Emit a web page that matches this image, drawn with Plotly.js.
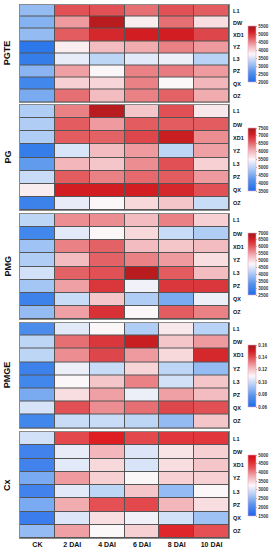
<!DOCTYPE html>
<html>
<head>
<meta charset="utf-8">
<script src="https://cdn.plot.ly/plotly-3.0.1.min.js"></script>
<style>html,body{margin:0;padding:0;background:#fff;}#chart{width:273px;height:550px;}</style>
</head>
<body>
<div id="chart"></div>
<script>
// ---- data ----
const days = ['CK', '2 DAI', '4 DAI', '6 DAI', '8 DAI', '10 DAI'];
const rows = ['L1', 'DW', 'XD1', 'YZ', 'L3', 'PZ', 'QX', 'OZ'];
const panelNames = ['PGTE', 'PG', 'PMG', 'PMGE', 'Cx'];

const PGTE = [
  [3050, 4800, 4800, 4625, 4800, 4730],
  [2945, 4380, 5325, 3820, 4625, 3925],
  [3050, 4730, 5080, 5150, 5150, 4870],
  [2175, 3820, 4170, 4275, 4520, 4380],
  [2280, 3610, 3330, 3575, 3645, 3295],
  [2980, 4345, 3750, 4520, 4555, 4380],
  [2420, 4030, 3995, 4520, 3750, 4205],
  [2875, 4625, 4170, 4520, 4695, 4275]
];
const PG = [
  [4900, 6380, 7300, 5900, 6700, 5620],
  [4900, 6620, 6220, 6620, 6620, 6620],
  [4900, 6620, 6580, 6780, 7180, 6300],
  [3820, 5220, 5980, 6220, 5020, 6180],
  [4300, 6020, 5900, 6300, 6700, 5820],
  [5100, 6620, 6380, 6540, 6620, 6220],
  [5580, 7100, 7100, 7100, 7020, 6700],
  [3900, 5340, 5500, 5740, 5900, 5100]
];
const PMG = [
  [4210, 5650, 5650, 5290, 5740, 5110],
  [3040, 4525, 4750, 5020, 4300, 4075],
  [3940, 5740, 5965, 5290, 5200, 5290],
  [4075, 5290, 5965, 5740, 5560, 4975],
  [4390, 5965, 6100, 6775, 6010, 5290],
  [3985, 5515, 6325, 4660, 6325, 6325],
  [2950, 4300, 5200, 4075, 3625, 4615],
  [3850, 5515, 6370, 4750, 6010, 5740]
];
const PMGE = [
  [0.075, 0.105, 0.110, 0.095, 0.113, 0.097],
  [0.098, 0.135, 0.145, 0.152, 0.120, 0.128],
  [0.098, 0.130, 0.142, 0.128, 0.116, 0.148],
  [0.070, 0.107, 0.100, 0.117, 0.098, 0.090],
  [0.072, 0.110, 0.120, 0.132, 0.102, 0.120],
  [0.085, 0.115, 0.127, 0.107, 0.127, 0.122],
  [0.103, 0.140, 0.130, 0.135, 0.142, 0.140],
  [0.072, 0.100, 0.100, 0.098, 0.090, 0.120]
];
const Cx = [
  [2970, 4370, 4720, 4370, 4510, 4510],
  [1920, 3110, 3705, 3040, 3390, 3530],
  [1920, 3075, 3460, 3005, 3425, 3600],
  [2375, 3880, 3530, 3250, 3530, 3530],
  [1920, 3075, 2830, 3600, 2550, 3250],
  [2375, 3775, 4300, 4370, 3705, 3425],
  [1850, 3040, 3425, 3180, 2970, 2620],
  [2550, 3845, 3250, 3530, 4650, 4300]
];
const panelData = [PGTE, PG, PMG, PMGE, Cx];

// colorbar ticks per panel
const cbTicks = [
  [2000, 2500, 3000, 3500, 4000, 4500, 5000, 5500],
  [3500, 4000, 4500, 5000, 5500, 6000, 6500, 7000, 7500],
  [2500, 3000, 3500, 4000, 4500, 5000, 5500, 6000, 6500, 7000],
  [0.06, 0.08, 0.10, 0.12, 0.14, 0.16],
  [1500, 2000, 2500, 3000, 3500, 4000, 4500, 5000]
];
const cbTickText = [
  null, null, null,
  ['0.06', '0.08', '0.10', '0.12', '0.14', '0.16'],
  null
];

// ---- layout geometry (pixels) ----
const W = 273, H = 550;
const panelPx = [[4.5, 102], [105, 210], [214, 319], [322.5, 428], [432, 538]];
const cbPx = [[26, 82], [128, 191], [233, 295], [345, 407], [455, 516]];
const xDom = [20 / W, 229 / W];

const scaleDark = [
  [0, 'rgb(28,108,232)'], [0.18, 'rgb(85,148,236)'], [0.36, 'rgb(180,208,246)'],
  [0.5, 'rgb(251,247,249)'], [0.64, 'rgb(242,178,182)'], [0.8, 'rgb(224,80,84)'],
  [0.9, 'rgb(210,30,35)'], [1, 'rgb(158,26,26)']
];
const scaleBright = [
  [0, 'rgb(28,100,235)'], [0.18, 'rgb(85,145,238)'], [0.36, 'rgb(180,208,246)'],
  [0.5, 'rgb(251,247,249)'], [0.64, 'rgb(242,178,182)'], [0.8, 'rgb(228,80,84)'],
  [0.92, 'rgb(222,30,35)'], [1, 'rgb(212,10,20)']
];

const font = 'Liberation Sans, Arial, sans-serif';
const traces = [];
const layout = {
  width: W, height: H,
  margin: {l: 0, r: 0, t: 0, b: 0, pad: 0},
  paper_bgcolor: '#fff',
  plot_bgcolor: '#555',
  showlegend: false,
  annotations: []
};

panelData.forEach((z, i) => {
  const n = i + 1;
  const xa = n === 1 ? 'x' : 'x' + n;
  const ya = n === 1 ? 'y' : 'y' + n;
  const ticks = cbTicks[i];
  const cb = cbPx[i];
  traces.push({
    type: 'heatmap',
    x: days, y: rows, z: z,
    xaxis: xa, yaxis: ya,
    zmin: ticks[0], zmax: ticks[ticks.length - 1],
    colorscale: i === 4 ? scaleBright : scaleDark,
    xgap: 1, ygap: 1,
    hoverinfo: 'skip',
    colorbar: {
      x: 248 / W, xanchor: 'left', xref: 'paper',
      y: 1 - (cb[0] + cb[1]) / 2 / H, yanchor: 'middle', yref: 'paper',
      len: cb[1] - cb[0], lenmode: 'pixels',
      thickness: 8, thicknessmode: 'pixels',
      xpad: 0, ypad: 0,
      outlinewidth: 0.6, outlinecolor: '#e9a6c8',
      tickmode: 'array',
      tickvals: ticks,
      ticktext: cbTickText[i] || ticks.map(String),
      ticks: 'outside', ticklen: 1.5, tickwidth: 0.5, tickcolor: '#555',
      tickfont: {family: font, size: 4.5, color: '#333', weight: 'bold'}
    }
  });
  const p = panelPx[i];
  layout[n === 1 ? 'xaxis' : 'xaxis' + n] = {
    domain: xDom, anchor: ya,
    type: 'category',
    tickmode: 'array', tickvals: days,
    showticklabels: n === 5,
    ticks: '', showgrid: false, zeroline: false,
    showline: true, mirror: true, linecolor: '#8a8a8a', linewidth: 1,
    tickfont: {family: font, size: 7, color: '#111', weight: 'bold'},
    ticklabelstandoff: 0
  };
  layout[n === 1 ? 'yaxis' : 'yaxis' + n] = {
    domain: [1 - p[1] / H, 1 - p[0] / H], anchor: xa,
    type: 'category', autorange: 'reversed',
    tickmode: 'array', tickvals: rows,
    side: 'right',
    ticks: '', showgrid: false, zeroline: false,
    showline: true, mirror: true, linecolor: '#8a8a8a', linewidth: 1,
    tickfont: {family: font, size: 5.5, color: '#111', weight: 'bold'},
    ticklabelstandoff: 2
  };
  layout.annotations.push({
    text: panelNames[i], xref: 'paper', yref: 'paper',
    x: 7 / W, y: 1 - (p[0] + p[1]) / 2 / H,
    xanchor: 'center', yanchor: 'middle',
    textangle: -90, showarrow: false,
    font: {family: font, size: 9, color: '#111', weight: 'bold'}
  });
});

Plotly.newPlot('chart', traces, layout, {displayModeBar: false, staticPlot: true});
</script>
</body>
</html>
